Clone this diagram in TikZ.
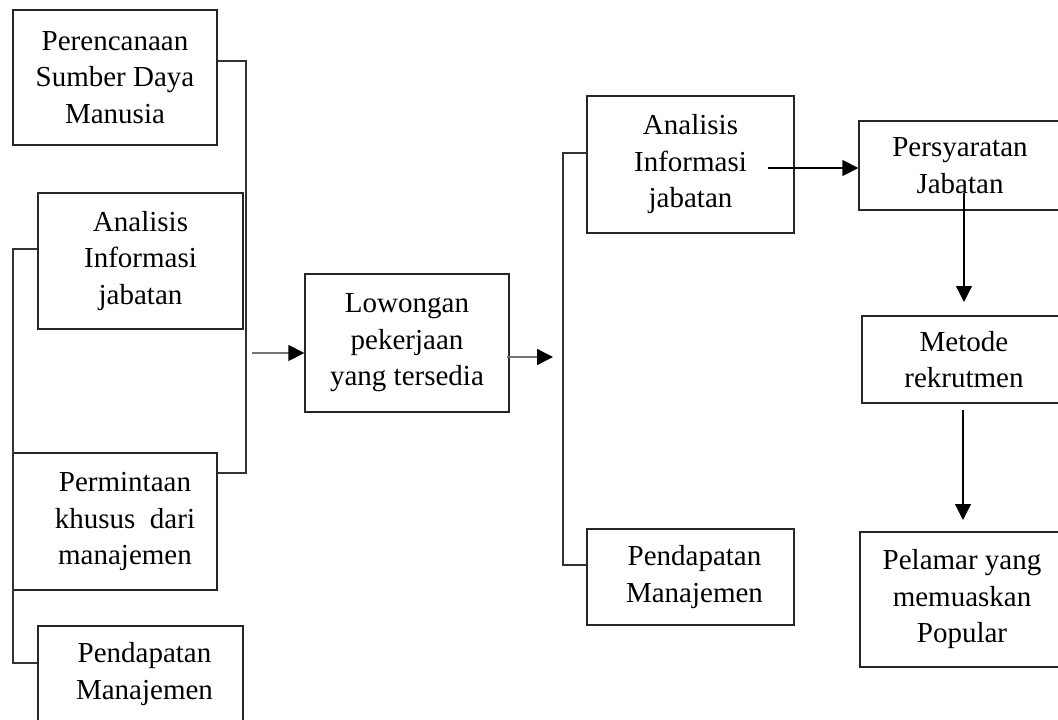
\documentclass[tikz,border=0pt]{standalone}
\usepackage{fontspec}
\setmainfont{Liberation Serif}
\usetikzlibrary{arrows.meta}
\begin{document}
\begin{tikzpicture}[x=1pt,y=-1pt,
  box/.style={draw=black!85, line width=1.3pt, align=center, inner sep=0pt,
    font=\fontsize{29}{36.5}\selectfont},
  conn/.style={draw=black!80, line width=1.3pt},
  arr/.style={draw=black, line width=1.3pt, -{Triangle[length=16pt,width=16pt]}},
  garr/.style={draw=black!55, line width=1.3pt, -{Triangle[length=16pt,width=16pt,color=black]}}]
\useasboundingbox (0,0) rectangle (1058,720);
\clip (0,0) rectangle (1058,720);
% left column
\node[box, minimum width=204, minimum height=135] (b1) at (115,77.5) {Perencanaan\\Sumber Daya\\Manusia};
\node[box, minimum width=205, minimum height=136] (b2) at (140.5,261) {Analisis\\Informasi\\jabatan};
\node[box, minimum width=204, minimum height=137] (b3) at (115,521.5) {\hspace*{20pt}Permintaan\\\hspace*{20pt}khusus\ \ dari\\\hspace*{20pt}manajemen};
\node[box, minimum width=205, minimum height=96] (b4) at (140.5,674) {\hspace*{8pt}Pendapatan\\\hspace*{8pt}Manajemen};
% middle
\node[box, minimum width=204, minimum height=138] (lw) at (407,343) {Lowongan\\pekerjaan\\yang tersedia};
% right middle
\node[box, minimum width=207, minimum height=137] (b5) at (690.5,164.5) {Analisis\\Informasi\\jabatan};
\node[box, minimum width=207, minimum height=96] (b6) at (690.5,577) {\hspace*{8pt}Pendapatan\\\hspace*{8pt}Manajemen};
% right column
\node[box, minimum width=202, minimum height=89] (ps) at (960,165.5) {Persyaratan\\Jabatan};
\node[box, minimum width=204, minimum height=87] (mt) at (964,359.5) {Metode\\rekrutmen};
\node[box, minimum width=204, minimum height=135] (pl) at (962,599.5) {Pelamar yang\\memuaskan\\Popular};
% junction coordinates
\coordinate (j1) at (246,61);
\coordinate (j2) at (246,473);
\coordinate (k1) at (13,249);
\coordinate (k2) at (13,663);
\coordinate (r1) at (563,153);
\coordinate (r2) at (563,565);
\coordinate (a1) at (252,353);
\coordinate (a2s) at (507,357);
\coordinate (a2e) at (553,357);
\coordinate (a3) at (768,168);
\coordinate (v1s) at (964,193);
\coordinate (v1e) at (964,302);
\coordinate (v2s) at (963,410);
\coordinate (v2e) at (963,520);
% brackets
\draw[conn] (b1.east |- j1) -- (j1) -- (j2) -- (b3.east |- j2);
\draw[conn] (b2.west |- k1) -- (k1) -- (k2) -- (b4.west |- k2);
\draw[conn] (b5.west |- r1) -- (r1) -- (r2) -- (b6.west |- r2);
% arrows
\draw[garr] (a1) -- (lw.west |- a1);
\draw[garr] (a2s) -- (a2e);
\draw[arr] (a3) -- (ps.west |- a3);
\draw[arr] (v1s) -- (v1e);
\draw[arr] (v2s) -- (v2e);
\end{tikzpicture}
\end{document}
